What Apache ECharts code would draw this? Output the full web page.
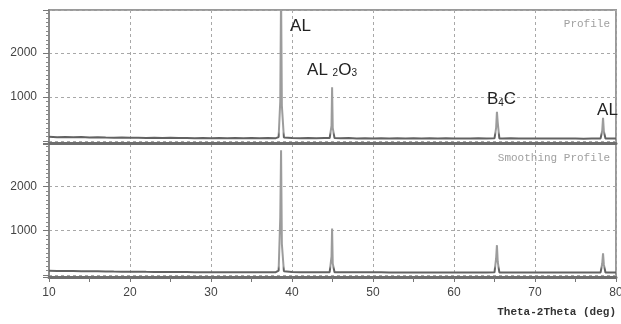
<!DOCTYPE html>
<html><head><meta charset="utf-8">
<script src="https://cdn.jsdelivr.net/npm/echarts@6/dist/echarts.min.js"></script>
<style>html,body{margin:0;padding:0;background:#fff}#c{width:621px;height:324px}</style>
</head><body><div id="c"></div>
<script>
// 2-theta positions (deg)
const twoTheta = [
  10,11,12,13,14,15,16,17,18,19,20,21,22,23,24,25,26,27,28,29,30,31,32,33,34,35,36,37,38,
  38.35,38.55,38.65,38.75,39.0,
  40,41,42,43,44,
  44.65,44.88,44.95,45.03,45.25,
  46,47,48,49,50,51,52,53,54,55,56,57,58,59,60,61,62,63,64,
  65.0,65.2,65.3,65.4,65.6,
  66,67,68,69,70,71,72,73,74,75,76,77,
  78.1,78.3,78.4,78.5,78.7,
  79,80
];
// "Profile" intensities
const profile = [
  95,88,92,85,90,82,88,78,75,80,72,76,70,74,68,72,66,70,64,69,62,67,63,68,61,66,62,68,65,
  90,900,3400,800,80,
  70,64,68,62,66,
  68,350,1220,300,66,
  62,66,60,64,58,63,60,65,59,62,57,61,58,63,57,60,56,61,58,
  62,300,665,420,60,
  57,61,56,60,55,59,56,60,55,58,54,59,
  60,240,530,220,58,
  55,58
];
// "Smoothing Profile" intensities
const smoothing = [
  98,92,90,88,86,84,85,80,77,76,74,73,71,70,69,68,67,66,65,65,64,64,63,63,62,62,62,63,64,
  100,1300,2820,700,85,
  66,64,63,63,62,
  64,420,1050,260,63,
  62,61,61,60,60,60,59,59,59,58,58,58,57,57,57,57,56,56,57,
  60,380,674,300,58,
  56,56,55,55,55,55,54,54,54,54,54,55,
  58,260,488,240,56,
  55,56
];
// peak annotations: [2theta, intensity, rich text]
const annotations = [
  [39.7, 2640, '{m|AL}'],
  [41.8, 1650, '{m|AL }{s|2}{m|O}{s|3}'],
  [64.0, 975, '{m|B}{s|4}{m|C}'],
  [77.6, 740, '{m|AL}']
];
const xTicks = [10,20,30,40,50,60,70,80];

const zip = (ys) => twoTheta.map((x, i) => [x, ys[i]]);
const dash = { color: '#a8a8a8', width: 1, type: [3, 3] };
function lineGrad(yLight, yDark) {
  return new echarts.graphic.LinearGradient(0, 0, 0, 324, [
    { offset: 0, color: '#9c9c9c' },
    { offset: yLight / 324, color: '#9c9c9c' },
    { offset: yDark / 324, color: '#626262' },
    { offset: 1, color: '#626262' }
  ], true);
}
function yAxisCfg(gi, max) {
  return {
    gridIndex: gi, type: 'value', min: -45, max: max,
    minInterval: 1000, maxInterval: 1000,
    axisLine: { show: true, lineStyle: { color: '#8a8a8a', width: 2 } },
    axisTick: { show: true, length: 6, lineStyle: { color: '#777' } },
    minorTick: { show: true, splitNumber: 10, length: 3, lineStyle: { color: '#888' } },
    axisLabel: { showMinLabel: false, showMaxLabel: false, margin: 12,
      fontFamily: 'Liberation Sans', fontSize: 12, color: '#444',
      formatter: v => (v % 1000 === 0 && v > 0) ? String(v) : '' },
    splitLine: { show: true, lineStyle: dash }
  };
}
function xAxisCfg(gi, showLabels) {
  return {
    gridIndex: gi, type: 'value', min: 10, max: 80, interval: 10,
    axisLine: { show: true, onZero: false, lineStyle: { color: '#6e6e6e', width: 3 } },
    axisTick: { show: showLabels, length: 5, lineStyle: { color: '#777' } },
    minorTick: { show: showLabels, splitNumber: 2, length: 5, lineStyle: { color: '#777' } },
    axisLabel: { show: showLabels, margin: 10, fontFamily: 'Liberation Sans', fontSize: 12, color: '#444',
      showMaxLabel: true, formatter: v => xTicks.includes(v) ? String(v) : '' },
    splitLine: { show: true, lineStyle: dash },
    name: showLabels ? 'Theta-2Theta (deg)' : '',
    nameLocation: 'end', nameGap: 0,
    nameTextStyle: { fontFamily: 'Liberation Mono', fontSize: 11, color: '#333', fontWeight: 'bold',
      align: 'right', verticalAlign: 'top', padding: [30, 0, 0, 0] }
  };
}
const chart = echarts.init(document.getElementById('c'), null, { renderer: 'canvas' });
chart.setOption({
  animation: false,
  grid: [
    { left: 49, right: 5, top: 10, height: 133, show: true, borderColor: '#9a9a9a', borderWidth: 2, backgroundColor: 'transparent', outerBoundsMode: 'none', containLabel: false },
    { left: 49, right: 5, top: 144, height: 133, show: true, borderColor: '#9a9a9a', borderWidth: 2, backgroundColor: 'transparent', outerBoundsMode: 'none', containLabel: false }
  ],
  xAxis: [xAxisCfg(0, false), xAxisCfg(1, true)],
  yAxis: [yAxisCfg(0, 2977), yAxisCfg(1, 2960)],
  title: [
    { text: 'Profile', right: 6, top: 14, textStyle: { fontFamily: 'Liberation Mono', fontSize: 11, color: '#a0a0a0', fontWeight: 'normal' } },
    { text: 'Smoothing Profile', right: 6, top: 148, textStyle: { fontFamily: 'Liberation Mono', fontSize: 11, color: '#a0a0a0', fontWeight: 'normal' } }
  ],
  series: [
    { type: 'line', xAxisIndex: 0, yAxisIndex: 0, data: zip(profile), showSymbol: false, clip: true,
      lineStyle: { width: 2, color: lineGrad(132, 135) },
      markPoint: {
        symbol: 'circle', symbolSize: 1, itemStyle: { color: 'rgba(0,0,0,0)' }, silent: true,
        label: { show: true, position: 'right', distance: 0,
          rich: {
            m: { fontFamily: 'Liberation Sans Narrow, Liberation Sans', fontSize: 17, color: '#222', lineHeight: 20, verticalAlign: 'bottom' },
            s: { fontFamily: 'Liberation Sans Narrow, Liberation Sans', fontSize: 10, color: '#222', lineHeight: 12, verticalAlign: 'bottom' }
          } },
        data: annotations.map(a => ({ coord: [a[0], a[1]], label: { formatter: a[2] } }))
      } },
    { type: 'line', xAxisIndex: 1, yAxisIndex: 1, data: zip(smoothing), showSymbol: false, clip: true,
      lineStyle: { width: 2, color: lineGrad(266, 269) } }
  ]
});
</script></body></html>
